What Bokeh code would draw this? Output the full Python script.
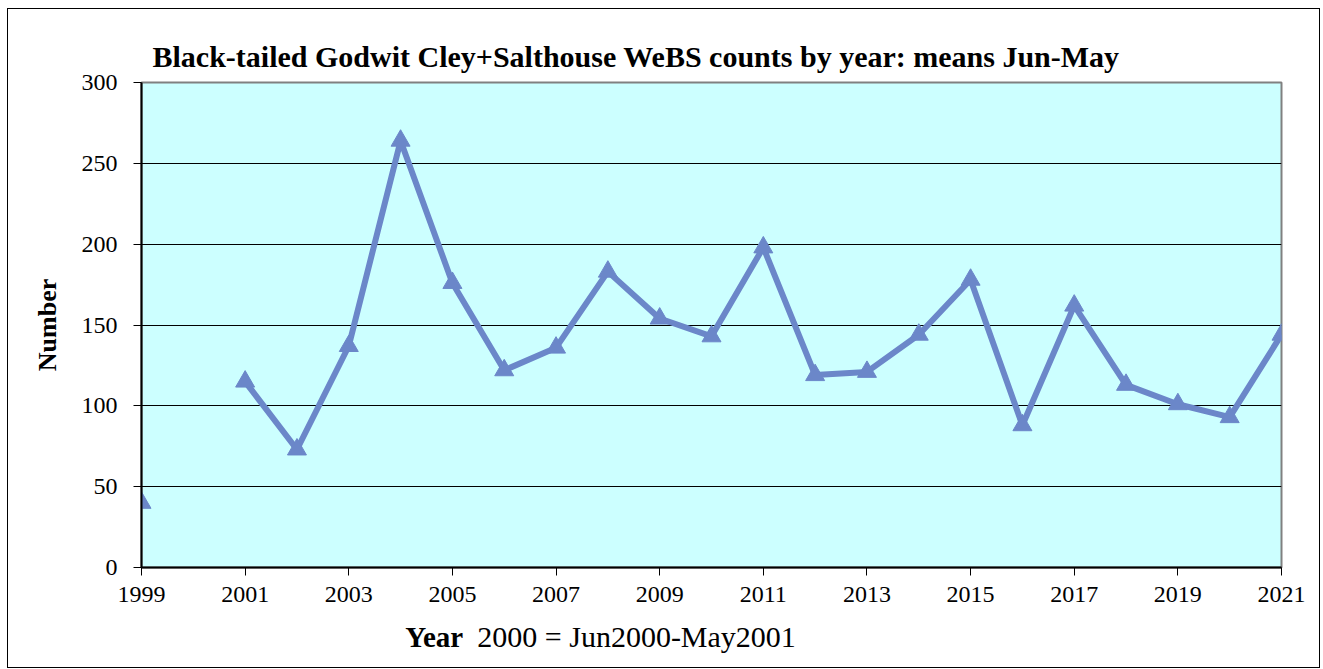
from bokeh.plotting import figure
from bokeh.models import Range1d, FixedTicker, Label
from bokeh.embed import file_html
from bokeh.resources import INLINE
import numpy as np

years = [1999, 2000, 2001, 2002, 2003, 2004, 2005, 2006, 2007, 2008, 2009, 2010,
         2011, 2012, 2013, 2014, 2015, 2016, 2017, 2018, 2019, 2020, 2021]
counts = [40, np.nan, 115, 73, 137, 264, 176, 122, 136, 183, 154, 143,
          198, 119, 121, 144, 178, 88, 162, 113, 101, 93, 144]
x_ticks = [1999, 2001, 2003, 2005, 2007, 2009, 2011, 2013, 2015, 2017, 2019, 2021]
y_ticks = [0, 50, 100, 150, 200, 250, 300]

FONT = "Liberation Serif"
LINE_C = "#6b87c9"

p = figure(width=1313, height=660, output_backend="svg", toolbar_location=None,
           x_range=Range1d(1999, 2021), y_range=Range1d(0, 300),
           min_border_left=133, min_border_right=40, min_border_top=73, min_border_bottom=100,
           background_fill_color="#ccffff", border_fill_color="white",
           styles={"border": "1px solid black", "margin-left": "7px", "margin-top": "8px"})

p.title.text = "Black-tailed Godwit Cley+Salthouse WeBS counts by year: means Jun-May"
p.title.text_font = FONT
p.title.text_font_size = "30px"
p.title.text_font_style = "bold"
p.title.text_color = "black"
p.title.align = "left"
p.title.offset = 11
p.title.standoff = 20

p.outline_line_color = "#808080"
p.outline_line_width = 2

p.xgrid.grid_line_color = None
p.ygrid.grid_line_color = "black"
p.ygrid.grid_line_width = 1

p.xaxis.ticker = FixedTicker(ticks=x_ticks)
p.yaxis.ticker = FixedTicker(ticks=y_ticks)
for ax in (p.xaxis, p.yaxis):
    ax.axis_line_color = "black"
    ax.axis_line_width = 2
    ax.major_tick_line_color = "black"
    ax.major_tick_out = 8
    ax.major_tick_in = 0
    ax.minor_tick_line_color = None
    ax.major_label_text_font = FONT
    ax.major_label_text_font_size = "24px"
    ax.major_label_text_color = "black"
p.yaxis.major_label_standoff = 16
p.xaxis.major_label_standoff = 11

p.yaxis.axis_label = "Number"
p.yaxis.axis_label_text_font = FONT
p.yaxis.axis_label_text_font_size = "26px"
p.yaxis.axis_label_text_font_style = "bold"
p.yaxis.axis_label_text_color = "black"
p.yaxis.axis_label_standoff = 17

p.line(years, counts, line_color=LINE_C, line_width=6)
p.scatter(years, counts, marker="triangle", size=19, fill_color=LINE_C, line_color=LINE_C)

p.add_layout(Label(x=2004.09, y=0, y_offset=-69, text="Year", text_font=FONT,
                   text_font_size="29px", text_font_style="bold", text_color="black",
                   text_baseline="middle", text_align="left"), "below")
p.add_layout(Label(x=2005.48, y=0, y_offset=-69, text="2000 = Jun2000-May2001",
                   text_font=FONT, text_font_size="30px", text_color="black",
                   text_baseline="middle", text_align="left"), "below")

open("out.html", "w").write(file_html(p, INLINE))
